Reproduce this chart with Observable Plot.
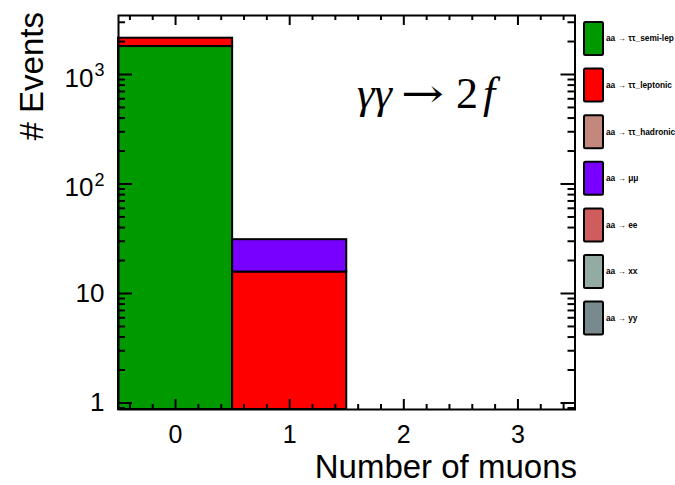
<!DOCTYPE html>
<html>
<head>
<meta charset="utf-8">
<script src="https://cdn.jsdelivr.net/npm/d3@7"></script>
<script src="https://cdn.jsdelivr.net/npm/@observablehq/plot@0.6"></script>
<style>
  html, body { margin: 0; padding: 0; background: #fff; }
  svg { display: block; }
</style>
</head>
<body>
<div id="chart"></div>
<script>
// ---- data ----
const bins = [0, 1, 2, 3];
const processNames = ["aa → ττ_semi-lep", "aa → ττ_leptonic", "aa → ττ_hadronic", "aa → μμ", "aa → ee", "aa → xx", "aa → yy"];
const processColors = ["#009900", "#ff0000", "#c2877d", "#7700ff", "#cf5d5d", "#93aba2", "#788a8e"];
const semiLep  = [1800, 0, 0, 0];
const leptonic = [345, 15.7, 0, 0];
const hadronic = [0, 0, 0, 0];
const mumu     = [0, 15.3, 0, 0];
const ee       = [0, 0, 0, 0];
const xx       = [0, 0, 0, 0];
const yy       = [0, 0, 0, 0];
const xDomain = [-0.5, 3.5];
const yDomain = [0.872, 3458];
const xMajorTicks = [0, 1, 2, 3];
const xMinorTicks = [-0.4, -0.2, 0.2, 0.4, 0.6, 0.8, 1.2, 1.4, 1.6, 1.8, 2.2, 2.4, 2.6, 2.8, 3.2, 3.4];
const xTickLabels = ["0", "1", "2", "3"];
const yMajorTicks = [1, 10, 100, 1000];
const yMinorTicks = [0.9, 2, 3, 4, 5, 6, 7, 8, 9, 20, 30, 40, 50, 60, 70, 80, 90, 200, 300, 400, 500, 600, 700, 800, 900, 2000, 3000];
const yTickBase = ["1", "10", "10", "10"];
const yTickExp  = ["", "", "2", "3"];
const xTitle = "Number of muons";
const yTitle = "# Events";

// ---- stacked table ----
const series = [semiLep, leptonic, hadronic, mumu, ee, xx, yy];
const rows = [];
bins.forEach((b, i) => {
  let cum = 0;
  series.forEach((s, k) => {
    const v = s[i];
    if (v > 0) {
      rows.push({x1: b - 0.5, x2: b + 0.5, y1: Math.max(cum, yDomain[0]), y2: cum + v, color: processColors[k]});
      cum += v;
    }
  });
});
const yPlain = yMajorTicks.map((v, i) => ({v, base: yTickBase[i], exp: yTickExp[i]}));

// ---- layout ----
const W = 675, H = 485, mL = 118, mR = 100.5, mT = 15, mB = 76;
const fw = W - mL - mR, fh = H - mT - mB;
const font = "'Liberation Sans', Arial, Helvetica, sans-serif";

const plot = Plot.plot({
  width: W, height: H,
  marginLeft: mL, marginRight: mR, marginTop: mT, marginBottom: mB,
  x: {domain: xDomain, axis: null},
  y: {type: "log", domain: yDomain, axis: null},
  color: {type: "identity"},
  style: {background: "white", fontFamily: font, color: "black"},
  marks: [
    Plot.rect(rows, {x1: "x1", x2: "x2", y1: "y1", y2: "y2", fill: "color", stroke: "black", strokeWidth: 2}),
    // y ticks left/right
    Plot.tickY(yMajorTicks, {y: d => d, insetRight: fw - 14, stroke: "black", strokeWidth: 2}),
    Plot.tickY(yMinorTicks, {y: d => d, insetRight: fw - 7, stroke: "black", strokeWidth: 2}),
    Plot.tickY(yMajorTicks, {y: d => d, insetLeft: fw - 14, stroke: "black", strokeWidth: 2}),
    Plot.tickY(yMinorTicks, {y: d => d, insetLeft: fw - 7, stroke: "black", strokeWidth: 2}),
    // x ticks bottom/top
    Plot.tickX(xMajorTicks, {x: d => d, insetTop: fh - 10, stroke: "black", strokeWidth: 2}),
    Plot.tickX(xMinorTicks, {x: d => d, insetTop: fh - 5, stroke: "black", strokeWidth: 2}),
    Plot.tickX(xMajorTicks, {x: d => d, insetBottom: fh - 10, stroke: "black", strokeWidth: 2}),
    Plot.tickX(xMinorTicks, {x: d => d, insetBottom: fh - 5, stroke: "black", strokeWidth: 2}),
    // tick labels
    Plot.text(yPlain.filter(d => !d.exp), {y: "v", text: "base", frameAnchor: "left", dx: -14, textAnchor: "end", lineAnchor: "middle", fontSize: 26, fill: "black"}),
    Plot.text(yPlain.filter(d => d.exp), {y: "v", text: "base", frameAnchor: "left", dx: -25, dy: 4, textAnchor: "end", lineAnchor: "middle", fontSize: 26, fill: "black"}),
    Plot.text(yPlain.filter(d => d.exp), {y: "v", text: "exp", frameAnchor: "left", dx: -14, dy: -4, textAnchor: "end", lineAnchor: "middle", fontSize: 18, fill: "black"}),
    Plot.text(xMajorTicks, {x: d => d, text: (d, i) => xTickLabels[i], frameAnchor: "bottom", dy: 25, lineAnchor: "middle", fontSize: 25, fill: "black"}),
    Plot.frame({stroke: "black", strokeWidth: 2})
  ]
});

const svg = d3.select(plot);

// axis titles
svg.append("text")
  .attr("x", 577).attr("y", 477.5)
  .attr("text-anchor", "end")
  .style("font-family", font).style("font-size", "33px").attr("fill", "black")
  .text(xTitle);
svg.append("text")
  .attr("transform", "translate(43,12) rotate(-90)")
  .attr("text-anchor", "end")
  .style("font-family", font).style("font-size", "33px").attr("fill", "black")
  .text(yTitle);

// formula  γγ → 2f
const serif = "'Liberation Serif', 'DejaVu Serif', serif";
const fy = 108;
svg.append("text").attr("x", 357).attr("y", fy).attr("text-anchor", "start")
  .attr("textLength", 35).attr("lengthAdjust", "spacingAndGlyphs")
  .style("font-family", serif).style("font-size", "44px").style("font-style", "italic").attr("fill", "black")
  .text("γγ");
svg.append("text").attr("x", 401).attr("y", fy - 1).attr("text-anchor", "start")
  .attr("textLength", 43).attr("lengthAdjust", "spacingAndGlyphs")
  .style("font-family", "'DejaVu Serif', serif").style("font-size", "40px").attr("fill", "black")
  .text("→");
svg.append("text").attr("x", 456).attr("y", fy).attr("text-anchor", "start")
  .style("font-family", serif).style("font-size", "44px").attr("fill", "black")
  .text("2");
svg.append("text").attr("x", 483).attr("y", fy).attr("text-anchor", "start")
  .style("font-family", serif).style("font-size", "44px").style("font-style", "italic").attr("fill", "black")
  .text("f");

// legend
processNames.forEach((name, i) => {
  const y0 = 22 + i * 46.6;
  svg.append("rect")
    .attr("x", 584).attr("y", y0).attr("width", 19).attr("height", 33).attr("rx", 1.5)
    .attr("fill", processColors[i]).attr("stroke", "black").attr("stroke-width", 2);
  svg.append("text")
    .attr("x", 606).attr("y", y0 + 16.5).attr("dy", "0.35em")
    .attr("text-anchor", "start")
    .style("font-family", font).style("font-size", "8.3px").style("font-weight", "bold")
    .attr("fill", "black")
    .text(name);
});

document.getElementById("chart").appendChild(plot);
</script>
</body>
</html>
